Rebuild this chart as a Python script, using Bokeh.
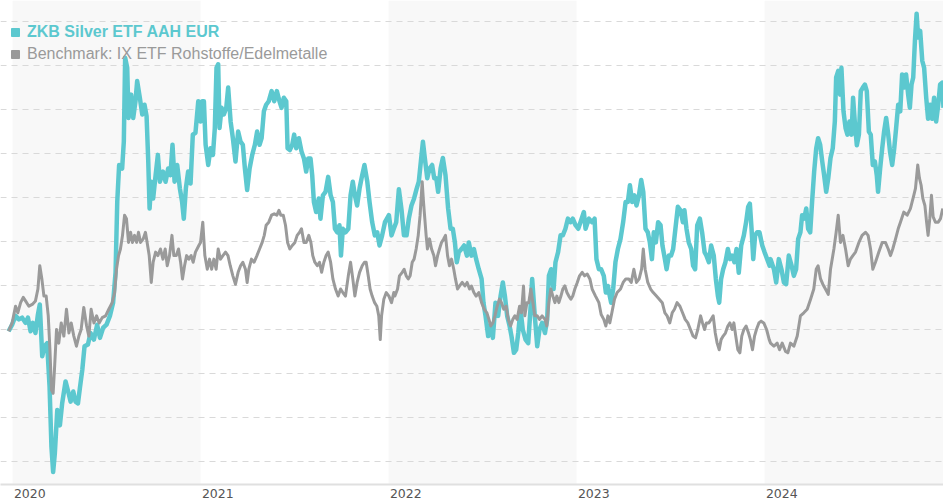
from bokeh.plotting import figure
from bokeh.models import FixedTicker, BoxAnnotation, Legend, LegendItem, Range1d
from bokeh.embed import file_html
from bokeh.resources import INLINE

# ---------------- data (decimal year, indexed value) ----------------
silver_t = [2019.979, 2019.998, 2020.016, 2020.034, 2020.051, 2020.069, 2020.082, 2020.096, 2020.108, 2020.122,
            2020.135, 2020.145, 2020.158, 2020.170, 2020.184, 2020.197, 2020.207, 2020.216, 2020.225, 2020.238,
            2020.252, 2020.264, 2020.282, 2020.296, 2020.309, 2020.323, 2020.335, 2020.348, 2020.358, 2020.371,
            2020.383, 2020.401, 2020.415, 2020.433, 2020.450, 2020.465, 2020.482, 2020.500, 2020.518, 2020.535,
            2020.548, 2020.557, 2020.567, 2020.583, 2020.592, 2020.599, 2020.610, 2020.617, 2020.631, 2020.642,
            2020.654, 2020.663, 2020.677, 2020.690, 2020.702, 2020.713, 2020.722, 2020.729, 2020.738, 2020.748,
            2020.761, 2020.773, 2020.784, 2020.800, 2020.814, 2020.828, 2020.840, 2020.851, 2020.862, 2020.876,
            2020.890, 2020.902, 2020.911, 2020.922, 2020.934, 2020.947, 2020.959, 2020.973, 2020.988, 2021.000,
            2021.009, 2021.018, 2021.027, 2021.041, 2021.053, 2021.066, 2021.076, 2021.085, 2021.094, 2021.101,
            2021.112, 2021.124, 2021.137, 2021.147, 2021.160, 2021.172, 2021.186, 2021.200, 2021.213, 2021.225,
            2021.236, 2021.248, 2021.261, 2021.275, 2021.289, 2021.301, 2021.314, 2021.325, 2021.337, 2021.349,
            2021.363, 2021.378, 2021.392, 2021.406, 2021.420, 2021.431, 2021.443, 2021.456, 2021.463, 2021.475,
            2021.488, 2021.498, 2021.509, 2021.523, 2021.537, 2021.550, 2021.562, 2021.573, 2021.585, 2021.594,
            2021.603, 2021.615, 2021.629, 2021.638, 2021.651, 2021.665, 2021.679, 2021.692, 2021.704, 2021.715,
            2021.727, 2021.739, 2021.747, 2021.757, 2021.771, 2021.786, 2021.798, 2021.810, 2021.821, 2021.833,
            2021.846, 2021.860, 2021.872, 2021.887, 2021.899, 2021.913, 2021.927, 2021.940, 2021.952, 2021.966,
            2021.981, 2022.002, 2022.016, 2022.028, 2022.041, 2022.055, 2022.069, 2022.082, 2022.096, 2022.108,
            2022.122, 2022.136, 2022.149, 2022.161, 2022.172, 2022.183, 2022.193, 2022.206, 2022.218, 2022.232,
            2022.243, 2022.254, 2022.264, 2022.277, 2022.289, 2022.303, 2022.317, 2022.330, 2022.342, 2022.353,
            2022.363, 2022.374, 2022.388, 2022.402, 2022.417, 2022.427, 2022.441, 2022.454, 2022.466, 2022.480,
            2022.495, 2022.505, 2022.516, 2022.530, 2022.543, 2022.555, 2022.569, 2022.583, 2022.596, 2022.608,
            2022.619, 2022.631, 2022.644, 2022.654, 2022.667, 2022.679, 2022.690, 2022.702, 2022.714, 2022.729,
            2022.743, 2022.755, 2022.764, 2022.778, 2022.791, 2022.803, 2022.817, 2022.832, 2022.844, 2022.853,
            2022.865, 2022.878, 2022.888, 2022.902, 2022.915, 2022.927, 2022.941, 2022.954, 2022.968, 2022.980,
            2022.995, 2023.009, 2023.021, 2023.039, 2023.048, 2023.066, 2023.083, 2023.096, 2023.106, 2023.119,
            2023.131, 2023.145, 2023.156, 2023.167, 2023.177, 2023.184, 2023.195, 2023.207, 2023.220, 2023.234,
            2023.248, 2023.261, 2023.273, 2023.284, 2023.296, 2023.308, 2023.319, 2023.332, 2023.344, 2023.355,
            2023.367, 2023.379, 2023.390, 2023.401, 2023.411, 2023.422, 2023.434, 2023.447, 2023.457, 2023.470,
            2023.479, 2023.491, 2023.503, 2023.514, 2023.526, 2023.539, 2023.553, 2023.566, 2023.574, 2023.585,
            2023.597, 2023.610, 2023.620, 2023.631, 2023.642, 2023.656, 2023.668, 2023.681, 2023.691, 2023.704,
            2023.716, 2023.730, 2023.741, 2023.752, 2023.759, 2023.769, 2023.780, 2023.792, 2023.805, 2023.816,
            2023.828, 2023.840, 2023.851, 2023.863, 2023.876, 2023.890, 2023.902, 2023.913, 2023.922, 2023.931,
            2023.940, 2023.950, 2023.961, 2023.973, 2023.988, 2024.000, 2024.014, 2024.027, 2024.032, 2024.050,
            2024.062, 2024.076, 2024.090, 2024.103, 2024.115, 2024.129, 2024.144, 2024.156, 2024.168, 2024.179,
            2024.191, 2024.200, 2024.211, 2024.222, 2024.232, 2024.243, 2024.253, 2024.264, 2024.275, 2024.285,
            2024.296, 2024.307, 2024.317, 2024.328, 2024.339, 2024.351, 2024.363, 2024.374, 2024.381, 2024.392,
            2024.402, 2024.409, 2024.420, 2024.431, 2024.441, 2024.452, 2024.463, 2024.471, 2024.480, 2024.491,
            2024.502, 2024.512, 2024.523, 2024.534, 2024.544, 2024.555, 2024.565, 2024.576, 2024.587, 2024.597,
            2024.604, 2024.615, 2024.626, 2024.636, 2024.647, 2024.658, 2024.668, 2024.679, 2024.690, 2024.700,
            2024.711, 2024.722, 2024.732, 2024.743, 2024.753, 2024.764, 2024.773, 2024.782, 2024.791, 2024.800,
            2024.809, 2024.817, 2024.828, 2024.839, 2024.849, 2024.860, 2024.870, 2024.881, 2024.892, 2024.902,
            2024.913, 2024.924, 2024.934, 2024.945, 2024.952]
silver_v = [99.6, 101.1, 103.1, 102.3, 102.7, 101.5, 102.7, 99.6, 101.5, 99.2,
            103.4, 105.7, 93.9, 96.2, 96.9, 87.0, 73.3, 67.6, 71.8, 81.7,
            78.2, 83.2, 88.2, 85.9, 83.6, 85.9, 83.6, 83.2, 86.6, 90.8,
            96.2, 96.6, 99.2, 97.7, 101.1, 98.1, 100.4, 101.1, 103.1, 106.1,
            113.0, 129.0, 137.4, 136.6, 142.7, 161.8, 159.5, 148.1, 153.4, 148.1,
            151.9, 156.5, 152.7, 148.9, 151.1, 148.5, 138.2, 127.5, 133.6, 129.8,
            135.1, 139.7, 133.6, 135.9, 133.6, 136.6, 135.1, 142.0, 133.6, 137.4,
            132.1, 129.0, 125.2, 132.1, 135.9, 133.2, 144.3, 144.7, 151.9, 147.3,
            151.9, 151.9, 142.0, 137.4, 141.2, 139.7, 145.8, 159.5, 160.3, 145.8,
            150.4, 148.9, 150.4, 155.0, 147.3, 143.5, 138.2, 145.0, 142.7, 142.0,
            136.6, 131.7, 136.6, 139.7, 142.0, 145.0, 142.0, 143.5, 149.6, 151.1,
            151.9, 154.2, 151.9, 154.2, 151.9, 150.4, 152.7, 151.9, 141.2, 140.8,
            142.0, 144.3, 141.2, 143.5, 140.5, 138.9, 135.9, 138.9, 138.9, 135.1,
            129.0, 126.7, 129.8, 125.2, 130.5, 131.3, 134.7, 130.5, 129.0, 122.9,
            122.1, 123.7, 116.8, 122.9, 122.1, 122.9, 130.5, 133.6, 130.5, 128.2,
            132.1, 135.1, 137.4, 133.6, 129.0, 124.4, 121.4, 122.1, 119.1, 121.4,
            124.4, 126.0, 121.4, 122.9, 124.4, 131.9, 127.3, 121.4, 121.4, 125.2,
            128.2, 129.8, 131.9, 133.6, 138.2, 142.7, 139.0, 134.4, 136.6, 137.4,
            134.4, 134.4, 131.3, 136.6, 139.0, 135.1, 127.5, 122.9, 122.9, 119.8,
            115.3, 117.6, 118.3, 119.1, 116.8, 119.8, 116.8, 118.3, 116.0, 113.7,
            111.5, 106.1, 103.1, 98.5, 100.8, 98.1, 106.1, 103.1, 107.6, 110.7,
            107.6, 103.1, 100.8, 98.5, 94.7, 95.4, 99.2, 104.6, 100.0, 97.7,
            96.9, 104.6, 111.5, 103.1, 96.2, 100.0, 101.5, 99.2, 102.3, 112.2,
            113.7, 109.2, 115.3, 117.6, 121.4, 121.4, 122.9, 125.2, 124.4, 125.2,
            123.7, 122.9, 124.4, 126.7, 122.9, 125.2, 124.4, 125.2, 116.0, 113.7,
            113.7, 112.2, 108.4, 109.9, 107.6, 106.1, 109.2, 115.3, 118.3, 120.6,
            124.4, 129.0, 129.0, 132.8, 129.0, 130.5, 128.2, 130.5, 134.0, 131.3,
            122.9, 122.1, 119.8, 116.0, 122.1, 119.8, 124.4, 123.7, 119.1, 116.0,
            113.7, 116.8, 116.8, 118.3, 122.9, 127.9, 127.1, 124.4, 127.1, 122.9,
            119.8, 118.3, 114.5, 113.7, 123.7, 125.2, 122.1, 117.6, 116.8, 115.3,
            119.1, 116.8, 111.5, 107.6, 106.1, 111.5, 113.7, 115.3, 118.3, 116.0,
            116.8, 115.3, 118.3, 112.9, 119.1, 121.4, 124.4, 127.9, 128.6, 122.9,
            116.0, 121.4, 122.1, 122.1, 119.1, 117.6, 116.0, 114.5, 116.0, 113.7,
            110.7, 116.0, 113.7, 110.7, 110.3, 116.8, 114.5, 112.2, 113.7, 120.6,
            122.1, 126.0, 125.2, 127.5, 122.9, 122.1, 129.0, 135.9, 141.2, 143.5,
            142.0, 138.2, 135.1, 131.3, 134.4, 139.0, 141.2, 147.3, 157.3, 158.8,
            153.4, 159.5, 149.6, 145.8, 144.3, 147.3, 144.3, 152.7, 147.3, 141.9,
            144.3, 154.2, 155.0, 155.7, 154.2, 145.0, 144.3, 137.4, 138.2, 135.1,
            131.3, 136.6, 141.2, 145.0, 148.1, 144.3, 140.3, 137.4, 141.2, 145.8,
            151.1, 149.6, 158.0, 155.0, 158.0, 153.4, 150.4, 155.7, 157.3, 165.6,
            171.8, 166.4, 167.9, 161.1, 159.5, 152.7, 147.9, 151.1, 147.9, 152.7,
            147.3, 151.1, 155.7, 156.1, 150.4]

bench_t = [2019.979, 2019.998, 2020.016, 2020.028, 2020.043, 2020.057, 2020.069, 2020.087, 2020.105, 2020.122,
           2020.135, 2020.145, 2020.156, 2020.167, 2020.179, 2020.190, 2020.199, 2020.207, 2020.216, 2020.223,
           2020.234, 2020.246, 2020.259, 2020.273, 2020.287, 2020.300, 2020.312, 2020.326, 2020.340, 2020.353,
           2020.365, 2020.379, 2020.394, 2020.406, 2020.418, 2020.433, 2020.447, 2020.461, 2020.477, 2020.495,
           2020.512, 2020.530, 2020.543, 2020.553, 2020.564, 2020.574, 2020.585, 2020.596, 2020.606, 2020.617,
           2020.628, 2020.638, 2020.649, 2020.660, 2020.670, 2020.681, 2020.695, 2020.707, 2020.716, 2020.727,
           2020.738, 2020.748, 2020.761, 2020.773, 2020.787, 2020.800, 2020.812, 2020.823, 2020.835, 2020.848,
           2020.858, 2020.871, 2020.883, 2020.894, 2020.904, 2020.915, 2020.926, 2020.938, 2020.950, 2020.961,
           2020.973, 2020.991, 2021.000, 2021.012, 2021.023, 2021.036, 2021.048, 2021.059, 2021.071, 2021.083,
           2021.094, 2021.106, 2021.119, 2021.133, 2021.146, 2021.158, 2021.172, 2021.186, 2021.200, 2021.213,
           2021.225, 2021.239, 2021.248, 2021.257, 2021.271, 2021.285, 2021.300, 2021.314, 2021.328, 2021.339,
           2021.349, 2021.363, 2021.378, 2021.392, 2021.406, 2021.417, 2021.427, 2021.440, 2021.452, 2021.463,
           2021.475, 2021.488, 2021.502, 2021.514, 2021.527, 2021.537, 2021.550, 2021.562, 2021.576, 2021.587,
           2021.597, 2021.608, 2021.621, 2021.633, 2021.644, 2021.656, 2021.668, 2021.679, 2021.692, 2021.704,
           2021.718, 2021.732, 2021.745, 2021.757, 2021.771, 2021.786, 2021.798, 2021.810, 2021.821, 2021.833,
           2021.846, 2021.860, 2021.872, 2021.881, 2021.892, 2021.902, 2021.913, 2021.926, 2021.938, 2021.948,
           2021.956, 2021.963, 2021.975, 2021.988, 2022.002, 2022.016, 2022.028, 2022.034, 2022.048, 2022.058,
           2022.073, 2022.083, 2022.094, 2022.105, 2022.115, 2022.126, 2022.136, 2022.147, 2022.158, 2022.168,
           2022.179, 2022.186, 2022.193, 2022.200, 2022.207, 2022.218, 2022.229, 2022.241, 2022.250, 2022.261,
           2022.271, 2022.282, 2022.293, 2022.303, 2022.314, 2022.324, 2022.335, 2022.347, 2022.356, 2022.367,
           2022.378, 2022.392, 2022.406, 2022.418, 2022.431, 2022.441, 2022.454, 2022.466, 2022.480, 2022.495,
           2022.509, 2022.523, 2022.534, 2022.544, 2022.555, 2022.566, 2022.578, 2022.590, 2022.601, 2022.613,
           2022.626, 2022.637, 2022.649, 2022.661, 2022.672, 2022.684, 2022.697, 2022.707, 2022.718, 2022.725,
           2022.736, 2022.746, 2022.757, 2022.768, 2022.778, 2022.791, 2022.803, 2022.817, 2022.832, 2022.842,
           2022.853, 2022.863, 2022.874, 2022.885, 2022.895, 2022.906, 2022.917, 2022.927, 2022.938, 2022.949,
           2022.959, 2022.970, 2022.980, 2022.991, 2023.004, 2023.016, 2023.030, 2023.043, 2023.057, 2023.071,
           2023.083, 2023.101, 2023.119, 2023.131, 2023.145, 2023.156, 2023.167, 2023.177, 2023.188, 2023.202,
           2023.216, 2023.234, 2023.248, 2023.262, 2023.278, 2023.291, 2023.305, 2023.319, 2023.333, 2023.346,
           2023.355, 2023.365, 2023.379, 2023.394, 2023.408, 2023.425, 2023.440, 2023.456, 2023.470, 2023.482,
           2023.496, 2023.509, 2023.521, 2023.535, 2023.550, 2023.564, 2023.578, 2023.592, 2023.606, 2023.620,
           2023.633, 2023.645, 2023.660, 2023.670, 2023.681, 2023.691, 2023.704, 2023.716, 2023.727, 2023.738,
           2023.748, 2023.759, 2023.769, 2023.780, 2023.792, 2023.805, 2023.816, 2023.828, 2023.837, 2023.847,
           2023.858, 2023.869, 2023.879, 2023.890, 2023.902, 2023.915, 2023.925, 2023.936, 2023.947, 2023.957,
           2023.970, 2023.982, 2023.996, 2024.011, 2024.025, 2024.032, 2024.050, 2024.067, 2024.080, 2024.094,
           2024.112, 2024.124, 2024.138, 2024.156, 2024.174, 2024.191, 2024.209, 2024.227, 2024.245, 2024.262,
           2024.275, 2024.285, 2024.298, 2024.310, 2024.324, 2024.339, 2024.351, 2024.369, 2024.381, 2024.392,
           2024.404, 2024.417, 2024.431, 2024.445, 2024.457, 2024.470, 2024.484, 2024.502, 2024.519, 2024.537,
           2024.551, 2024.564, 2024.576, 2024.590, 2024.608, 2024.626, 2024.643, 2024.658, 2024.670, 2024.682,
           2024.697, 2024.711, 2024.723, 2024.741, 2024.759, 2024.776, 2024.794, 2024.803, 2024.815, 2024.824,
           2024.833, 2024.842, 2024.853, 2024.862, 2024.870, 2024.879, 2024.888, 2024.897, 2024.909, 2024.924,
           2024.936, 2024.948]
bench_v = [99.6, 101.5, 105.3, 103.8, 106.1, 107.3, 106.5, 105.3, 105.7, 106.5,
           109.2, 114.5, 111.5, 107.6, 107.6, 103.1, 95.4, 86.3, 85.5, 90.8,
           100.0, 96.9, 101.5, 98.5, 104.6, 99.2, 101.5, 98.5, 96.2, 98.5,
           100.0, 105.0, 100.8, 98.5, 104.6, 101.5, 103.1, 101.5, 102.7, 103.1,
           104.6, 106.1, 108.4, 113.7, 116.8, 118.3, 121.4, 126.0, 125.2, 119.8,
           122.1, 119.8, 121.4, 119.8, 122.1, 119.8, 120.6, 122.1, 119.8, 116.8,
           110.7, 115.3, 117.6, 116.8, 118.3, 116.0, 118.3, 114.5, 116.8, 121.4,
           116.8, 116.8, 118.3, 115.3, 111.5, 114.5, 116.8, 116.0, 116.8, 115.3,
           117.6, 119.1, 119.8, 124.4, 116.8, 113.7, 116.0, 113.7, 116.0, 113.7,
           118.3, 116.0, 116.8, 117.6, 116.8, 114.5, 112.2, 110.3, 113.0, 114.5,
           115.3, 113.7, 110.7, 113.7, 116.0, 115.3, 116.8, 118.3, 119.8, 121.4,
           123.7, 124.4, 126.0, 126.3, 126.0, 127.1, 126.0, 126.0, 123.7, 119.8,
           118.3, 119.1, 119.8, 121.4, 122.1, 122.9, 119.8, 119.8, 121.4, 119.8,
           116.8, 115.3, 114.5, 115.3, 113.0, 115.3, 116.8, 117.6, 115.3, 111.5,
           109.2, 107.6, 109.2, 108.4, 107.6, 112.2, 115.3, 111.5, 107.6, 110.7,
           113.0, 114.5, 115.3, 115.3, 112.2, 109.2, 107.6, 106.1, 105.3, 103.1,
           97.7, 103.1, 106.9, 108.4, 107.6, 106.1, 108.4, 107.6, 109.2, 112.2,
           113.0, 113.7, 112.2, 111.5, 112.2, 115.3, 116.0, 118.3, 121.4, 126.0,
           133.6, 129.0, 125.2, 121.4, 118.3, 120.6, 118.3, 116.8, 114.5, 116.8,
           118.3, 119.8, 120.6, 121.4, 116.8, 114.5, 116.0, 113.7, 111.5, 109.2,
           109.9, 110.7, 109.9, 110.7, 109.2, 109.9, 108.4, 107.6, 108.4, 106.1,
           104.6, 103.8, 102.3, 100.8, 101.5, 103.1, 105.3, 106.9, 106.1, 104.6,
           105.3, 102.3, 100.8, 102.3, 103.1, 102.3, 105.3, 103.8, 109.9, 103.1,
           106.1, 106.1, 109.2, 106.1, 103.1, 103.1, 102.3, 103.1, 102.3, 100.8,
           106.1, 109.2, 107.6, 106.1, 107.6, 106.1, 107.6, 109.2, 109.9, 108.4,
           107.6, 106.9, 107.6, 109.2, 110.7, 112.2, 113.0, 112.2, 112.6, 111.5,
           109.2, 107.6, 106.1, 103.4, 102.3, 100.8, 103.1, 101.5, 103.8, 106.9,
           108.4, 109.2, 110.7, 111.5, 111.5, 110.7, 113.7, 110.7, 111.5, 113.7,
           118.3, 113.7, 110.7, 109.2, 108.4, 107.6, 106.9, 106.1, 103.8, 103.1,
           101.5, 103.8, 104.6, 106.1, 105.3, 103.8, 102.3, 101.5, 100.0, 98.5,
           98.1, 100.0, 103.1, 101.5, 100.0, 101.5, 101.5, 102.3, 103.1, 99.2,
           96.9, 95.4, 97.7, 98.5, 99.2, 100.8, 101.5, 100.0, 101.5, 98.5,
           95.4, 94.7, 98.5, 100.0, 100.8, 99.2, 97.7, 95.4, 98.5, 100.0,
           101.5, 101.9, 101.5, 100.0, 97.7, 96.9, 96.2, 96.9, 95.4, 96.9,
           95.0, 94.7, 96.9, 96.2, 98.5, 103.1, 103.8, 104.6, 106.9, 109.2,
           113.7, 114.5, 111.5, 110.3, 109.2, 108.0, 113.7, 118.3, 122.1, 126.0,
           119.8, 121.4, 118.3, 114.5, 116.0, 116.8, 117.6, 119.8, 121.4, 122.1,
           121.4, 118.3, 113.7, 115.3, 117.6, 119.8, 119.8, 118.3, 116.8, 118.3,
           120.6, 122.9, 124.4, 126.7, 126.0, 127.5, 130.5, 132.1, 137.4, 134.4,
           132.8, 129.8, 128.2, 124.4, 121.4, 125.2, 130.5, 125.6, 124.4, 124.4,
           125.2, 127.5]

year_ticks = [2020, 2021, 2022, 2023, 2024]
year_labels = ["2020", "2021", "2022", "2023", "2024"]
band_years = [2020, 2022, 2024]
grid_values = [70, 80, 90, 100, 110, 120, 130, 140, 150, 160, 170]

silver_name = "ZKB Silver ETF AAH EUR"
bench_name = "Benchmark: IX ETF Rohstoffe/Edelmetalle"

TEAL = "#5cc8cf"
GREY = "#9a9a9a"
FONT = "Liberation Sans"

# labels sit to the right of each year boundary (left aligned): shift the tick
# by half a label width, expressed in years
LABEL_SHIFT = 0.092

# ---------------- figure ----------------
p = figure(width=943, height=500, output_backend="svg", toolbar_location=None,
           x_range=Range1d(2019.936, 2024.952), y_range=Range1d(64.76, 174.8),
           min_border_left=0, min_border_right=0, min_border_top=0, min_border_bottom=0)
p.outline_line_color = None
p.background_fill_color = "white"
p.border_fill_color = "white"

for y0 in band_years:
    p.add_layout(BoxAnnotation(left=y0, right=y0 + 1, fill_color="#f8f8f8", fill_alpha=1.0,
                               line_color=None, level="image"))

p.yaxis.visible = False
p.xgrid.visible = False
p.ygrid.ticker = FixedTicker(ticks=grid_values)
p.ygrid.grid_line_color = "#d9d9d9"
p.ygrid.grid_line_dash = "6 5"
p.ygrid.grid_line_width = 1

shifted = [t + LABEL_SHIFT for t in year_ticks]
xa = p.xaxis[0]
xa.ticker = FixedTicker(ticks=shifted)
xa.major_label_overrides = {t: l for t, l in zip(shifted, year_labels)}
xa.axis_line_color = "#e0e0e0"
xa.axis_line_width = 2
xa.major_tick_line_color = None
xa.minor_tick_line_color = None
xa.major_tick_out = 0
xa.major_tick_in = 0
xa.major_label_standoff = 4
xa.major_label_text_font = "DejaVu Sans"
xa.major_label_text_font_size = "12.5px"
xa.major_label_text_color = "#555555"

r_silver = p.line(silver_t, silver_v, line_color=TEAL, line_width=4.5, line_join="round")
r_bench = p.line(bench_t, bench_v, line_color=GREY, line_width=3, line_join="round")

# legend swatches: hidden square renderers (legend draws them, plot does not)
sq_silver = p.scatter(silver_t[:1], silver_v[:1], marker="square", fill_color=TEAL, line_color=TEAL)
sq_bench = p.scatter(bench_t[:1], bench_v[:1], marker="square", fill_color=GREY, line_color=GREY)
sq_silver.visible = False
sq_bench.visible = False

common = dict(margin=0, padding=0, spacing=0, glyph_width=20, glyph_height=20, label_height=20,
              label_standoff=2, label_text_font=FONT, label_text_font_size="16px",
              background_fill_alpha=0, border_line_color=None,
              inactive_fill_alpha=0)
leg1 = Legend(items=[LegendItem(label=silver_name, renderers=[sq_silver])],
              location=(5, 442), label_text_font_style="bold", label_text_color=TEAL, **common)
leg2 = Legend(items=[LegendItem(label=bench_name, renderers=[sq_bench])],
              location=(5, 420), label_text_color=GREY, **common)
p.add_layout(leg1)
p.add_layout(leg2)

open("out.html", "w").write(file_html(p, INLINE))
